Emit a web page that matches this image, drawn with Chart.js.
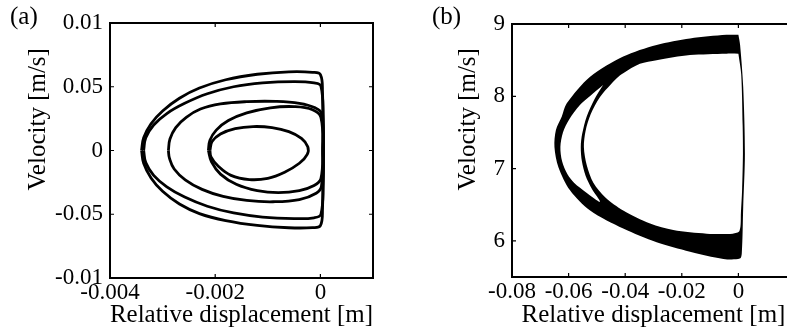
<!DOCTYPE html>
<html>
<head>
<meta charset="utf-8">
<script src="https://cdn.jsdelivr.net/npm/chart.js@4"></script>
<style>
html, body { margin: 0; padding: 0; background: #fff; overflow: hidden; }
#wrap { position: relative; width: 787px; height: 332px; overflow: hidden; }
#chartA { position: absolute; left: 0; top: 0; }
#chartB { position: absolute; left: 395px; top: 0; }
</style>
</head>
<body>
<div id="wrap">
<canvas id="chartA" width="390" height="332"></canvas>
<canvas id="chartB" width="405" height="332"></canvas>
</div>
<script>
const xTicksA = [-0.004, -0.002, 0];
const xLabelsA = ['-0.004', '-0.002', '0'];
const yTicksA = [-0.1, -0.05, 0, 0.05, 0.1];
const yLabelsA = ['-0.01', '-0.05', '0', '0.05', '0.01'];

const loopA1 = [
    [-0.00340, 0], [-0.00336, 0.010], [-0.00322, 0.021], [-0.00300, 0.031], [-0.00268, 0.041],
    [-0.00230, 0.049], [-0.00180, 0.0555], [-0.00120, 0.0598], [-0.00060, 0.0617], [-0.00015, 0.0613],
    [0, 0.0595], [0.00004, 0.045], [0.00006, 0], [0.00004, -0.045], [0, -0.059],
    [-0.00015, -0.0605], [-0.00060, -0.0606], [-0.00120, -0.0588], [-0.00180, -0.0550], [-0.00230, -0.0495],
    [-0.00268, -0.0420], [-0.00300, -0.0320], [-0.00322, -0.0215], [-0.00336, -0.0100], [-0.00340, 0]
];
const loopA2 = [
    [-0.00336, 0], [-0.00332, 0.010], [-0.00317, 0.020], [-0.00292, 0.029], [-0.00258, 0.037],
    [-0.00215, 0.0445], [-0.00165, 0.0500], [-0.00110, 0.0530], [-0.00050, 0.0540], [-0.00012, 0.0530],
    [0.00001, 0.0505], [0.00005, 0.025], [0.00006, 0], [0.00005, -0.025], [0.00001, -0.0500],
    [-0.00012, -0.0528], [-0.00050, -0.0534], [-0.00110, -0.0522], [-0.00165, -0.0490], [-0.00215, -0.0437],
    [-0.00258, -0.0365], [-0.00292, -0.0285], [-0.00317, -0.0195], [-0.00332, -0.0095], [-0.00336, 0]
];
const loopA3 = [
    [-0.00289, 0], [-0.00286, 0.009], [-0.00275, 0.018], [-0.00255, 0.026], [-0.00228, 0.0325],
    [-0.00190, 0.0365], [-0.00140, 0.0383], [-0.00085, 0.0385], [-0.00040, 0.0370], [-0.00010, 0.0335],
    [0.00002, 0.029], [0.00005, 0], [0.00002, -0.0280], [-0.00008, -0.0335], [-0.00040, -0.0385],
    [-0.00090, -0.0402], [-0.00140, -0.0392], [-0.00185, -0.0360], [-0.00225, -0.0305], [-0.00257, -0.0230],
    [-0.00278, -0.0145], [-0.00287, -0.0060], [-0.00289, 0]
];
const loopA4 = [
    [-0.00213, 0], [-0.00210, 0.008], [-0.00198, 0.016], [-0.00175, 0.0235], [-0.00140, 0.0295],
    [-0.00095, 0.0335], [-0.00050, 0.0344], [-0.00015, 0.0320], [0.00001, 0.0260], [0.00004, 0],
    [0.00001, -0.0220], [-0.00012, -0.0275], [-0.00040, -0.0315], [-0.00080, -0.0331], [-0.00120, -0.0315],
    [-0.00160, -0.0265], [-0.00190, -0.0185], [-0.00207, -0.0090], [-0.00213, 0]
];
const loopA5 = [
    [-0.00210, 0], [-0.00206, 0.0070], [-0.00190, 0.0130], [-0.00162, 0.0172], [-0.00128, 0.0188],
    [-0.00092, 0.0180], [-0.00060, 0.0148], [-0.00036, 0.0095], [-0.00024, 0.0030], [-0.00025, -0.0030],
    [-0.00040, -0.0100], [-0.00068, -0.0170], [-0.00100, -0.0218], [-0.00135, -0.0228], [-0.00170, -0.0195],
    [-0.00195, -0.0120], [-0.00208, -0.0050], [-0.00210, 0]
];

// (b) the dense orbit fills a band: outline of the black area, then the two white holes
const xTicksB = [-0.08, -0.06, -0.04, -0.02, 0];
const xLabelsB = ['-0.08', '-0.06', '-0.04', '-0.02', '0'];
const yTicksB = [6, 7, 8, 9];
const yLabelsB = ['6', '7', '8', '9'];

const bandOuterB = [
    [0, 8.85], [0.0006, 8.71], [0.0017, 8.13], [0.0023, 7.21], [0.0017, 6.47],
    [0.0012, 5.83], [0.0005, 5.755], [-0.0053, 5.75], [-0.0171, 5.85], [-0.0289, 5.98],
    [-0.0407, 6.17], [-0.0524, 6.42], [-0.0595, 6.70], [-0.0636, 7.02], [-0.0650, 7.30],
    [-0.0645, 7.53], [-0.0624, 7.72], [-0.0607, 7.90], [-0.0524, 8.27], [-0.0407, 8.55],
    [-0.0289, 8.71], [-0.0171, 8.80], [-0.0042, 8.85], [0, 8.85]
];
const holeInnerB = [
    [0, 8.59], [0.0010, 8.30], [0.0015, 7.60], [0.0016, 7.20], [0.0013, 6.70],
    [0.0009, 6.40], [0.0004, 6.14], [-0.0020, 6.10], [-0.0112, 6.10], [-0.0230, 6.15],
    [-0.0312, 6.24], [-0.0407, 6.42], [-0.0470, 6.60], [-0.0512, 6.80], [-0.0536, 7.05],
    [-0.0546, 7.30], [-0.0540, 7.52], [-0.0522, 7.75], [-0.0489, 7.99], [-0.0430, 8.25],
    [-0.0407, 8.32], [-0.0348, 8.45], [-0.0289, 8.50], [-0.0171, 8.57], [-0.0042, 8.59], [0, 8.59]
];
const holeGapB = [
    [-0.0478, 8.155], [-0.0525, 8.00], [-0.0560, 7.88], [-0.0598, 7.68], [-0.0620, 7.50],
    [-0.0629, 7.30], [-0.0623, 7.10], [-0.0604, 6.92], [-0.0580, 6.80], [-0.0538, 6.67],
    [-0.0489, 6.54], [-0.0518, 6.72], [-0.0540, 6.90], [-0.0553, 7.10], [-0.0557, 7.30],
    [-0.0552, 7.48], [-0.0536, 7.72], [-0.0510, 7.95], [-0.0478, 8.155]
];

Chart.defaults.font.family = "'Liberation Serif', 'Times New Roman', serif";
Chart.defaults.color = '#000';

const toXY = pts => pts.map(p => ({ x: p[0], y: p[1] }));

// matlab-like box with short inward ticks on all four sides
const frame = {
    id: 'frame',
    afterDatasetsDraw(chart) {
        const { ctx, chartArea: a, scales: { x, y } } = chart;
        ctx.save();
        ctx.strokeStyle = '#000';
        ctx.lineWidth = 1.2;
        ctx.beginPath();
        x.ticks.forEach(t => {
            const px = x.getPixelForValue(t.value);
            ctx.moveTo(px, a.bottom); ctx.lineTo(px, a.bottom - 4);
            ctx.moveTo(px, a.top); ctx.lineTo(px, a.top + 4);
        });
        y.ticks.forEach(t => {
            const py = y.getPixelForValue(t.value);
            ctx.moveTo(a.left, py); ctx.lineTo(a.left + 4, py);
            ctx.moveTo(a.right, py); ctx.lineTo(a.right - 4, py);
        });
        ctx.stroke();
        ctx.lineWidth = 2;
        ctx.strokeRect(a.left, a.top, a.right - a.left, a.bottom - a.top);
        ctx.restore();
    }
};

function panel(id, c) {
    return new Chart(document.getElementById(id), {
        type: 'line',
        data: { datasets: c.datasets },
        options: {
            responsive: false,
            animation: false,
            events: [],
            layout: { padding: { left: c.padLeft, right: c.padRight, top: 0, bottom: 0 } },
            elements: { point: { radius: 0 } },
            plugins: {
                legend: { display: false },
                tooltip: { enabled: false },
                title: {
                    display: true, text: c.tag, align: 'start',
                    font: { size: 25, weight: 'normal', lineHeight: 1 },
                    padding: { top: 4.5, bottom: c.tagPadBottom }
                }
            },
            scales: {
                x: {
                    type: 'linear', min: c.xMin, max: c.xMax,
                    afterBuildTicks: s => { s.ticks = c.xTicks.map(v => ({ value: v })); },
                    afterFit: s => { s.height = c.xHeight; },
                    grid: { display: false, drawTicks: false },
                    border: { display: false },
                    ticks: {
                        autoSkip: false, maxRotation: 0, padding: 3,
                        font: { size: 23, lineHeight: 1 },
                        callback: (v, i) => c.xLabels[i]
                    },
                    title: {
                        display: true, text: 'Relative displacement [m]',
                        font: { size: 25, lineHeight: 1.2 },
                        padding: { top: 0, bottom: 1.5 }
                    }
                },
                y: {
                    type: 'linear', min: c.yMin, max: c.yMax,
                    afterBuildTicks: s => { s.ticks = c.yTicks.map(v => ({ value: v })); },
                    afterFit: s => { s.width = c.yWidth; },
                    grid: { display: false, drawTicks: false },
                    border: { display: false },
                    ticks: {
                        autoSkip: false, padding: 7,
                        font: { size: 23, lineHeight: 1 },
                        callback: (v, i) => c.yLabels[i]
                    },
                    title: {
                        // leading spaces push the label up, as in the figure
                        display: true, text: '          Velocity [m/s]',
                        font: { size: 25, lineHeight: 1.2 },
                        padding: { top: c.yTitlePad, bottom: 0 }
                    }
                }
            }
        },
        plugins: [frame]
    });
}

const curve = pts => ({
    data: toXY(pts), borderColor: '#000', borderWidth: 2.8,
    tension: 0.4, fill: false, pointRadius: 0
});
const patch = (pts, colour, order) => ({
    data: toXY(pts), borderColor: 'rgba(0,0,0,0)', borderWidth: 1,
    backgroundColor: colour, fill: 'shape', tension: 0.3, pointRadius: 0, order: order
});

panel('chartA', {
    tag: '(a)', tagPadBottom: -6.5, padLeft: 10, padRight: 17,
    xMin: -0.004, xMax: 0.001, xTicks: xTicksA, xLabels: xLabelsA, xHeight: 54,
    yMin: -0.1, yMax: 0.1, yTicks: yTicksA, yLabels: yLabelsA, yWidth: 100, yTitlePad: 13,
    datasets: [loopA1, loopA2, loopA3, loopA4, loopA5].map(curve)
});

panel('chartB', {
    tag: '(b)', tagPadBottom: -5.5, padLeft: 37, padRight: 5,
    xMin: -0.08, xMax: 0.02, xTicks: xTicksB, xLabels: xLabelsB, xHeight: 55,
    yMin: 5.5, yMax: 9, yTicks: yTicksB, yLabels: yLabelsB, yWidth: 80, yTitlePad: 21,
    datasets: [
        patch(bandOuterB, '#000', 3),
        patch(holeInnerB, '#fff', 2),
        patch(holeGapB, '#fff', 1)
    ]
});
</script>
</body>
</html>
